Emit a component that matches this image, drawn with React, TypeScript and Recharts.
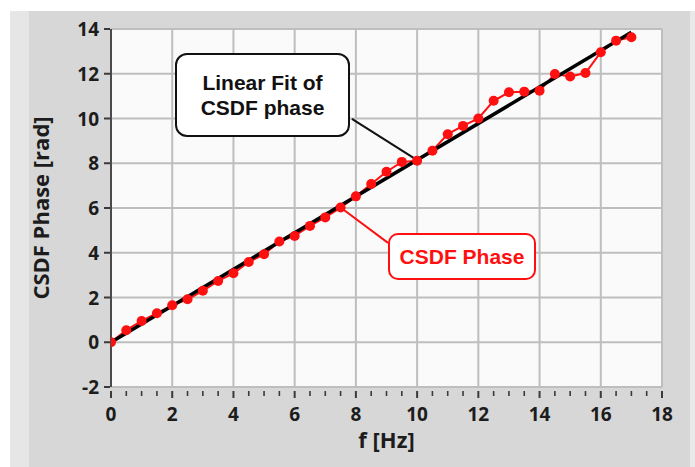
import React from 'react';
import {
  LineChart,
  Line,
  XAxis,
  YAxis,
  CartesianGrid,
  ReferenceLine,
  Label,
} from 'recharts';

// measured CSDF phase, one point every 0.5 Hz
const freq = [
  0, 0.5, 1, 1.5, 2, 2.5, 3, 3.5, 4, 4.5, 5, 5.5, 6, 6.5, 7, 7.5, 8, 8.5,
  9, 9.5, 10, 10.5, 11, 11.5, 12, 12.5, 13, 13.5, 14, 14.5, 15, 15.5, 16,
  16.5, 17,
];
const phase = [
  0, 0.54, 0.95, 1.3, 1.65, 1.92, 2.3, 2.74, 3.08, 3.59, 3.93, 4.5, 4.75,
  5.2, 5.58, 6.02, 6.52, 7.07, 7.62, 8.06, 8.11, 8.56, 9.3, 9.67, 10.0,
  10.79, 11.17, 11.2, 11.24, 11.99, 11.88, 12.03, 12.96, 13.48, 13.63,
];

// linear fit end points
const fitFreq = [0, 17];
const fitPhase = [0, 13.85];

const xMajorTicks = [0, 2, 4, 6, 8, 10, 12, 14, 16, 18];
const xMinorTicks = [
  0, 0.5, 1, 1.5, 2, 2.5, 3, 3.5, 4, 4.5, 5, 5.5, 6, 6.5, 7, 7.5, 8, 8.5,
  9, 9.5, 10, 10.5, 11, 11.5, 12, 12.5, 13, 13.5, 14, 14.5, 15, 15.5, 16,
  16.5, 17, 17.5, 18,
];
const yTicks = [-2, 0, 2, 4, 6, 8, 10, 12, 14];

// callout anchors (data coordinates)
const fitCallout = [
  { x: 10, y: 8.14 },
  { x: 7.87, y: 9.98 },
];
const phaseCallout = [
  { x: 7.5, y: 6.02 },
  { x: 9.05, y: 4.44 },
];

const measured = freq.map((f, i) => ({ f, phase: phase[i] }));
const fitted = fitFreq.map((f, i) => ({ f, fit: fitPhase[i] }));

const tickFont = "'Open Sans', 'Noto Sans', sans-serif";
const calloutFont = "'Liberation Sans', Arial, sans-serif";

const XTick = ({ x, y, payload }: any) => {
  const v = payload.value;
  const major = v % 2 === 0;
  return (
    <g>
      <line
        x1={x}
        x2={x}
        y1={y + 4}
        y2={major ? y + 11 : y + 9}
        stroke="#3a3a3a"
        strokeWidth={major ? 2 : 1.6}
      />
      {major && (
        <text
          x={x}
          y={y + 34}
          textAnchor="middle"
          fontFamily={tickFont}
          fontWeight={700}
          fontSize={19}
          fill="#1c1c1c"
        >
          {v}
        </text>
      )}
    </g>
  );
};

const YTick = ({ x, y, payload }: any) => (
  <g>
    <line x1={x - 7} x2={x - 1} y1={y} y2={y} stroke="#3a3a3a" strokeWidth={2} />
    <text
      x={x - 12}
      y={y + 7}
      textAnchor="end"
      fontFamily={tickFont}
      fontWeight={700}
      fontSize={19}
      fill="#1c1c1c"
    >
      {payload.value}
    </text>
  </g>
);

export default function App() {
  return (
    <div
      style={{
        position: 'absolute',
        left: 0,
        top: 0,
        width: 695,
        height: 467,
        background: '#ffffff',
        overflow: 'hidden',
      }}
    >
      {/* panel background */}
      <div style={{ position: 'absolute', left: 10, top: 11, width: 680, height: 456, background: '#d7d7d7' }} />
      <div style={{ position: 'absolute', left: 10, top: 11, width: 19, height: 456, background: '#e6e6e6' }} />
      <div style={{ position: 'absolute', left: 690, top: 11, width: 5, height: 456, background: '#e9e9e9' }} />

      <div style={{ position: 'absolute', left: 0, top: 0 }}>
        <LineChart
          width={695}
          height={467}
          margin={{ top: 29, right: 33, left: 0, bottom: 0 }}
        >
          <CartesianGrid
            fill="#fafafa"
            stroke="#bebebe"
            strokeWidth={2}
            verticalValues={xMajorTicks}
            horizontalValues={yTicks}
          />
          <XAxis
            dataKey="f"
            type="number"
            domain={[0, 18]}
            ticks={xMinorTicks}
            interval={0}
            height={80}
            axisLine={false}
            tickLine={false}
            tickSize={0}
            tickMargin={0}
            tick={<XTick />}
            allowDataOverflow
          >
            <Label
              content={({ viewBox }: any) => (
                <text
                  x={viewBox.x + viewBox.width / 2}
                  y={viewBox.y + 61}
                  textAnchor="middle"
                  fontFamily={tickFont}
                  fontWeight={700}
                  fontSize={22}
                  fill="#1c1c1c"
                >
                  f [Hz]
                </text>
              )}
            />
          </XAxis>
          <YAxis
            type="number"
            domain={[-2, 14]}
            ticks={yTicks}
            interval={0}
            width={111}
            axisLine={{ stroke: '#4a4a4a', strokeWidth: 2 }}
            tickLine={false}
            tickSize={0}
            tickMargin={0}
            tick={<YTick />}
            allowDataOverflow
          >
            <Label
              content={({ viewBox }: any) => {
                const cx = 40;
                const cy = viewBox.y + viewBox.height / 2;
                return (
                  <text
                    x={cx}
                    y={cy}
                    transform={`rotate(-90 ${cx} ${cy})`}
                    textAnchor="middle"
                    dominantBaseline="central"
                    fontFamily={tickFont}
                    fontWeight={700}
                    fontSize={22}
                    fill="#1c1c1c"
                  >
                    CSDF Phase [rad]
                  </text>
                );
              }}
            />
          </YAxis>
          <ReferenceLine segment={fitCallout} stroke="#111" strokeWidth={2} ifOverflow="visible" />
          <ReferenceLine segment={phaseCallout} stroke="#ff1010" strokeWidth={2} ifOverflow="visible" />
          <Line
            data={measured}
            dataKey="phase"
            type="linear"
            stroke="#ff1010"
            strokeWidth={2}
            dot={{ r: 5, fill: '#ff1010', stroke: 'none' }}
            isAnimationActive={false}
          />
          <Line
            data={fitted}
            dataKey="fit"
            type="linear"
            stroke="#000000"
            strokeWidth={3.5}
            dot={false}
            isAnimationActive={false}
          />
        </LineChart>
      </div>

      {/* callouts */}
      <div
        style={{
          position: 'absolute',
          left: 175,
          top: 53,
          width: 175,
          height: 84,
          boxSizing: 'border-box',
          border: '2.5px solid #111',
          borderRadius: 12,
          background: '#ffffff',
          display: 'flex',
          alignItems: 'center',
          justifyContent: 'center',
          textAlign: 'center',
          fontFamily: calloutFont,
          fontWeight: 700,
          fontSize: 21,
          lineHeight: '25px',
          color: '#111',
        }}
      >
        Linear Fit of
        <br />
        CSDF phase
      </div>
      <div
        style={{
          position: 'absolute',
          left: 388,
          top: 233,
          width: 148,
          height: 47,
          boxSizing: 'border-box',
          border: '2.5px solid #ff1010',
          borderRadius: 10,
          background: '#ffffff',
          display: 'flex',
          alignItems: 'center',
          justifyContent: 'center',
          fontFamily: calloutFont,
          fontWeight: 700,
          fontSize: 21,
          color: '#ff1010',
        }}
      >
        CSDF Phase
      </div>
    </div>
  );
}
